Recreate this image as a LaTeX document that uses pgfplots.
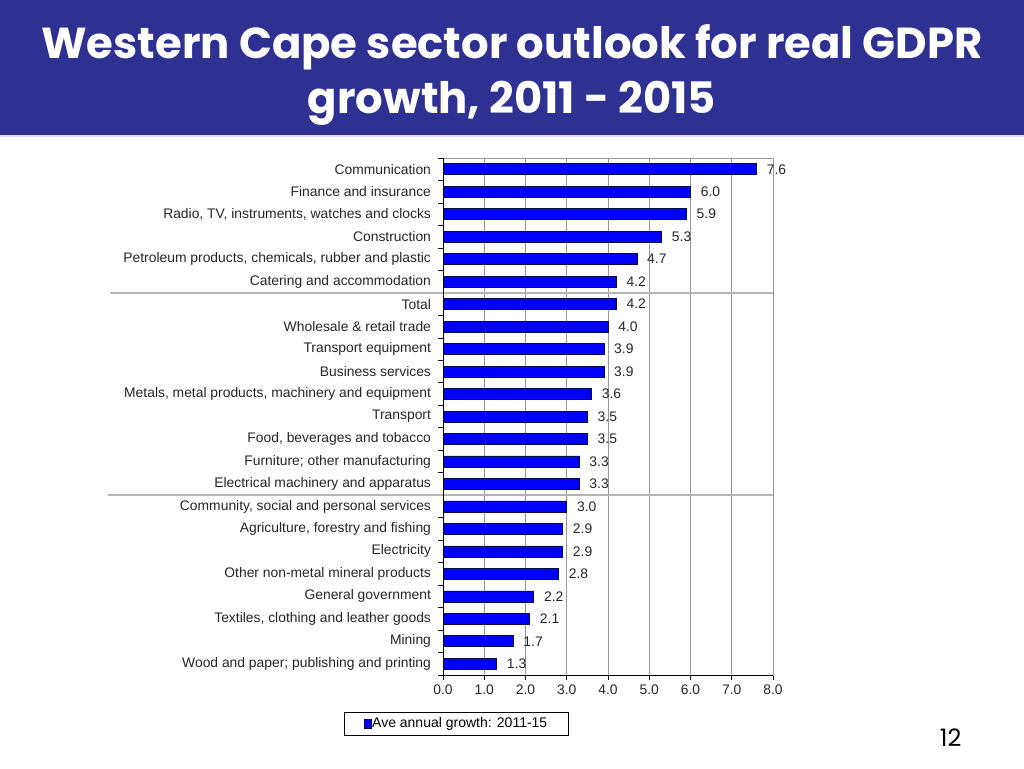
\documentclass[border=0pt]{standalone}
\usepackage{pgfplots}
\pgfplotsset{compat=1.18}
\usepackage{fontspec}
\setmainfont{Liberation Sans}
\newfontfamily\titlefont{Poppins}
\definecolor{titleblue}{RGB}{46,49,146}
\definecolor{barblue}{RGB}{0,0,255}
\definecolor{baredge}{RGB}{10,10,70}
\definecolor{gridgray}{RGB}{150,150,150}
\definecolor{sepgray}{RGB}{180,180,180}
\begin{document}
\begin{tikzpicture}
\useasboundingbox (0,0) rectangle (768pt,-576pt);
\fill[white] (0,0) rectangle (768pt,-576pt);
% title bar
\fill[titleblue] (0,0) rectangle (768pt,-101.25pt);
\fill[black!12] (0,-101.25pt) rectangle (768pt,-103pt);
\node[anchor=base, text=white, inner sep=0pt,
  font=\titlefont\bfseries\fontsize{32.5}{38}\selectfont] at (384pt,-43.8pt)
  {Western Cape sector outlook for real GDPR};
\node[anchor=base, text=white, inner sep=0pt,
  font=\titlefont\bfseries\fontsize{32.5}{38}\selectfont] at (384pt,-84.75pt)
  {growth, 2011 - 2015};
% slide number
\node[anchor=base, inner sep=0pt, font=\titlefont\fontsize{18}{20}\selectfont]
  at (713pt,-559.5pt) {12};

\begin{axis}[
  at={(332.25pt,-506.25pt)}, anchor=south west,
  scale only axis, width=247.5pt, height=387.75pt,
  xbar, bar width=8.25pt,
  xmin=0, xmax=8, ymin=-0.5, ymax=22.5, y dir=reverse,
  xtick={0,...,8},
  ytick={-0.5,0.5,...,22.5},
  y tick label as interval,
  yticklabels={
    {Communication},
    {Finance and insurance},
    {Radio, TV, instruments, watches and clocks},
    {Construction},
    {Petroleum products, chemicals, rubber and plastic},
    {Catering and accommodation},
    {Total},
    {Wholesale \& retail trade},
    {Transport equipment},
    {Business services},
    {Metals, metal products, machinery and equipment},
    {Transport},
    {Food, beverages and tobacco},
    {Furniture; other manufacturing},
    {Electrical machinery and apparatus},
    {Community, social and personal services},
    {Agriculture, forestry and fishing},
    {Electricity},
    {Other non-metal mineral products},
    {General government},
    {Textiles, clothing and leather goods},
    {Mining},
    {Wood and paper; publishing and printing}},
  xtick pos=left, ytick pos=left,
  tick align=outside, major tick length=3.5pt,
  tick style={black, line width=0.5pt},
  xmajorgrids, ymajorgrids=false,
  grid style={gridgray, line width=0.6pt},
  axis line style={gridgray, line width=0.6pt},
  /pgf/number format/assume math mode=true,
  xticklabel style={/pgf/number format/.cd, fixed, fixed zerofill, precision=1},
  ticklabel style={font=\fontsize{10.4}{12}\selectfont, text=black!85},
  yticklabel style={xshift=-2pt},
  point meta=x,
  nodes near coords,
  every node near coord/.append style={anchor=west, inner sep=0pt, xshift=7.5pt,
    font=\fontsize{10.4}{12}\selectfont, text=black!85,
    /pgf/number format/.cd, fixed, fixed zerofill, precision=1},
  legend style={at={(0.0394,-0.0938)}, anchor=center, draw=black, line width=0.5pt,
    inner xsep=15pt, inner ysep=3.5pt, font=\fontsize{10.5}{12}\selectfont,
    nodes={inner sep=0.6pt}, legend cell align=left},
  legend image code/.code={\draw[fill=barblue, draw=baredge, line width=0.3pt]
    (0pt,-3.2pt) rectangle (5.3pt,3.2pt);},
  clip=false,
]
\addplot[fill=barblue, draw=baredge, line width=0.5pt] coordinates {
  (7.6,0) (6.0,1) (5.9,2) (5.3,3) (4.7,4) (4.2,5) (4.2,6) (4.0,7)
  (3.9,8) (3.9,9) (3.6,10) (3.5,11) (3.5,12) (3.3,13) (3.3,14)
  (3.0,15) (2.9,16) (2.9,17) (2.8,18) (2.2,19) (2.1,20) (1.7,21) (1.3,22)
};
\addlegendentry{Ave annual growth: 2011-15}
% separator lines
\draw[sepgray, line width=1.1pt] ([xshift=-249.75pt]axis cs:0,5.5) -- (axis cs:8,5.5);
\draw[sepgray, line width=1.1pt] ([xshift=-251pt]axis cs:0,14.5) -- (axis cs:8,14.5);
% black left and bottom axis lines
\draw[black, line width=0.6pt] (axis cs:0,-0.5) -- (axis cs:0,22.5) -- (axis cs:8,22.5);
\end{axis}
\end{tikzpicture}
\end{document}
